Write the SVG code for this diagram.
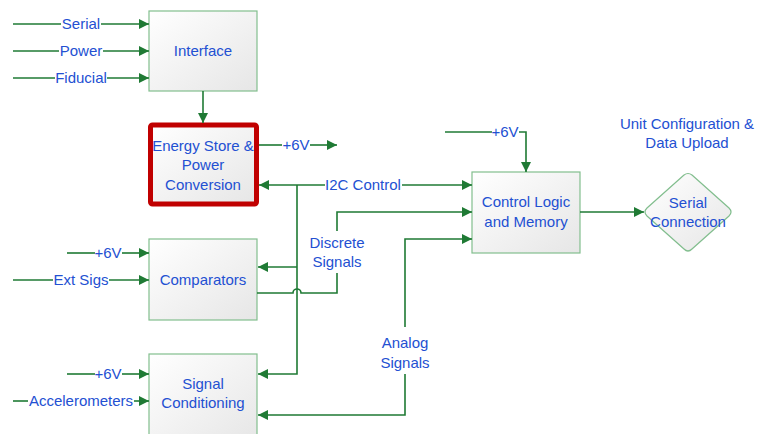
<svg xmlns="http://www.w3.org/2000/svg" width="759" height="434" viewBox="0 0 759 434">
<style>
text{font-family:"Liberation Sans",Arial,sans-serif;font-size:15px;fill:#2350D2;text-anchor:middle}
.box{fill:url(#g);stroke:#82BE8E;stroke-width:1.2}
.red{fill:url(#g);stroke:#C00000;stroke-width:5}
.c path{fill:none;stroke:#1F7A34;stroke-width:1.6}
.a{marker-end:url(#ah)}
</style>
<defs>
<linearGradient id="g" x1="0" y1="0" x2="1" y2="1">
<stop offset="0" stop-color="#FFFFFF"/>
<stop offset="1" stop-color="#E6E6E6"/>
</linearGradient>
<marker id="ah" viewBox="0 0 10 10" refX="10" refY="5" markerWidth="10" markerHeight="10" markerUnits="userSpaceOnUse" orient="auto">
<path d="M0,0 L10,5 L0,10 z" fill="#1F7A34"/>
</marker>
</defs>
<rect width="759" height="434" fill="#FFFFFF"/>

<g id="interface"><rect class="box" x="149" y="11" width="108" height="80"/><text x="203" y="56">Interface</text></g>
<g id="energy"><rect class="red" x="150.5" y="125" width="106" height="79" rx="2"/><text x="203" y="151">Energy Store &amp;</text><text x="203" y="170">Power</text><text x="203" y="190">Conversion</text></g>
<g id="comparators"><rect class="box" x="149" y="239" width="108" height="81"/><text x="203" y="285">Comparators</text></g>
<g id="signalcond"><rect class="box" x="149" y="354" width="108" height="90"/><text x="203" y="389">Signal</text><text x="203" y="408">Conditioning</text></g>
<g id="control"><rect class="box" x="472" y="172" width="108" height="81"/><text x="526" y="207">Control Logic</text><text x="526" y="227">and Memory</text></g>
<g id="serialconn"><path class="box" d="M684,175 Q688,172 692,175 L729,208 Q733,212 729,216 L692,249 Q688,253 684,249 L647,216 Q643,212 647,208 Z"/><text x="688" y="208">Serial</text><text x="688" y="227">Connection</text></g>
<g id="note"><text x="687" y="129">Unit Configuration &amp;</text><text x="687" y="148">Data Upload</text></g>

<g id="connectors" class="c">
<path d="M13,24 H61"/><path class="a" d="M101,24 H149"/>
<path d="M13,51 H59"/><path class="a" d="M103,51 H149"/>
<path d="M13,78 H55"/><path class="a" d="M107,78 H149"/>
<path class="a" d="M203,91 V123"/>
<path d="M259,145 H282"/><path class="a" d="M310,145 H337"/>
<path class="a" d="M325,185 H259"/><path class="a" d="M402,185 H472"/>
<path class="a" d="M297,185 V374 H258"/>
<path class="a" d="M297,267 H258"/>
<path d="M257,293 H293 A4,4 0 0 1 301,293 H337 V273"/>
<path class="a" d="M337,231 V212 H472"/>
<path class="a" d="M405,327 V239 H472"/>
<path class="a" d="M405,374 V415 H258"/>
<path d="M67,253 H95"/><path class="a" d="M122,253 H149"/>
<path d="M13,280 H53"/><path class="a" d="M109,280 H149"/>
<path d="M67,374 H95"/><path class="a" d="M122,374 H149"/>
<path d="M13,401 H28"/><path class="a" d="M134,401 H149"/>
<path d="M445,132 H492"/><path class="a" d="M519,132 H526 V172"/>
<path class="a" d="M580,212 H644"/>
</g>

<g id="labels">
<text x="81" y="29">Serial</text>
<text x="81" y="56">Power</text>
<text x="81" y="83">Fiducial</text>
<text x="296" y="150">+6V</text>
<text x="363" y="190">I2C Control</text>
<text x="337" y="248">Discrete</text>
<text x="337" y="267">Signals</text>
<text x="405" y="348">Analog</text>
<text x="405" y="368">Signals</text>
<text x="108" y="258">+6V</text>
<text x="81" y="285">Ext Sigs</text>
<text x="108" y="379">+6V</text>
<text x="81" y="406">Accelerometers</text>
<text x="505" y="137">+6V</text>
</g>
</svg>
